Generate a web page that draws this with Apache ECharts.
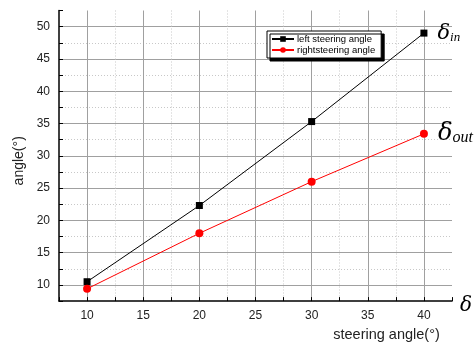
<!DOCTYPE html>
<html>
<head>
<meta charset="utf-8">
<script src="https://cdn.jsdelivr.net/npm/echarts@6/dist/echarts.min.js"></script>
<style>
  html, body { margin: 0; padding: 0; background: #fff; }
  #chart { width: 476px; height: 347px; }
</style>
</head>
<body>
<div id="chart"></div>
<script>
// data
var steering = [10, 20, 30, 40]
var leftAngle = [10.5, 22.3, 35.3, 49]
var rightAngle = [9.4, 18, 26, 33.4]
var leftName = 'left steering angle'
var rightName = 'rightsteering angle'

var font = '"Liberation Sans", Arial, sans-serif'

function pairs (xs, ys) {
  return xs.map(function (x, i) { return [x, ys[i]] })
}

// major ticks every 5, minor (dotted) every 2.5
function majorLabel (v) {
  return Math.abs(v % 5) < 1e-6 ? String(v) : ''
}

function lastLabel (rich, text) {
  return {
    show: true,
    position: 'right',
    distance: 10,
    formatter: function (p) { return p.dataIndex === steering.length - 1 ? text : '' },
    rich: rich
  }
}

var chart = echarts.init(document.getElementById('chart'))
var option = {
  animation: false,
  grid: { left: 59, right: 24, top: 10.5, bottom: 42 },
  legend: {
    orient: 'vertical',
    left: 267,
    top: 31,
    itemGap: 1,
    itemWidth: 22,
    itemHeight: 7,
    padding: [3, 6, 3, 4],
    borderColor: '#000',
    borderWidth: 1,
    backgroundColor: '#fff',
    shadowColor: '#000',
    shadowBlur: 0,
    shadowOffsetX: 3,
    shadowOffsetY: 3,
    textStyle: { fontFamily: font, fontSize: 9.5, color: '#000', padding: [0, 0, 0, -2] },
    data: [leftName, rightName]
  },
  xAxis: [
    {
      type: 'value', min: 7.5, max: 42.5, interval: 2.5,
      name: 'steering angle(°)', nameLocation: 'middle', nameGap: 25,
      nameTextStyle: { fontFamily: font, fontSize: 14.5, color: '#222', padding: [0, 0, 0, 262] },
      axisLine: { show: true, lineStyle: { color: '#000', width: 1.5 } },
      axisTick: { show: true, inside: true, length: 4, lineStyle: { color: '#000' } },
      axisLabel: { formatter: majorLabel, fontFamily: font, fontSize: 12, color: '#222', margin: 9 },
      splitLine: { show: true, showMinLine: false, showMaxLine: false, lineStyle: { color: ['#a0a0a0', 'transparent'], width: 1 } }
    },
    {
      type: 'value', min: 7.5, max: 42.5, interval: 2.5, position: 'bottom',
      axisLine: { show: false }, axisTick: { show: false }, axisLabel: { show: false },
      splitLine: { show: true, showMinLine: false, showMaxLine: false, lineStyle: { color: ['transparent', '#c8c8c8'], type: [1, 2], width: 1 } }
    }
  ],
  yAxis: [
    {
      type: 'value', min: 7.5, max: 52.5, interval: 2.5,
      name: 'angle(°)', nameLocation: 'middle', nameGap: 33,
      nameTextStyle: { fontFamily: font, fontSize: 14, color: '#222', padding: [0, 10, 0, 0] },
      axisLine: { show: true, lineStyle: { color: '#000', width: 1.5 } },
      axisTick: { show: true, inside: true, length: 4, lineStyle: { color: '#000' } },
      axisLabel: { formatter: majorLabel, fontFamily: font, fontSize: 12, color: '#222', margin: 9 },
      splitLine: { show: true, showMinLine: false, showMaxLine: false, lineStyle: { color: ['#a0a0a0', 'transparent'], width: 1 } }
    },
    {
      type: 'value', min: 7.5, max: 52.5, interval: 2.5, position: 'left',
      axisLine: { show: false }, axisTick: { show: false }, axisLabel: { show: false },
      splitLine: { show: true, showMinLine: false, showMaxLine: false, lineStyle: { color: ['transparent', '#c8c8c8'], type: [1, 2], width: 1 } }
    }
  ],
  series: [
    {
      name: leftName,
      type: 'line',
      data: pairs(steering, leftAngle),
      symbol: 'rect',
      symbolSize: 7,
      itemStyle: { color: '#000' },
      lineStyle: { color: '#000', width: 1 },
      label: lastLabel({
        d: { fontFamily: '"DejaVu Serif", serif', fontStyle: 'italic', fontSize: 21, color: '#000' },
        s: { fontFamily: '"Liberation Serif", serif', fontStyle: 'italic', fontSize: 13, color: '#000', padding: [8, 0, 0, 0] }
      }, '{d|δ}{s|in}')
    },
    {
      name: rightName,
      type: 'line',
      data: pairs(steering, rightAngle),
      symbol: 'circle',
      symbolSize: 8,
      itemStyle: { color: '#ff0000' },
      lineStyle: { color: '#ff0000', width: 1 },
      label: lastLabel({
        d: { fontFamily: '"DejaVu Serif", serif', fontStyle: 'italic', fontSize: 24, color: '#000' },
        s: { fontFamily: '"Liberation Serif", serif', fontStyle: 'italic', fontSize: 16, color: '#000', padding: [8, 0, 0, 0] }
      }, '{d|δ}{s|out}')
    }
  ],
  graphic: [
    {
      type: 'text', left: 460, top: 296,
      style: { text: 'δ', font: 'italic 20px "DejaVu Serif", serif', fill: '#000' }
    }
  ]
}
chart.setOption(option)
</script>
</body>
</html>
